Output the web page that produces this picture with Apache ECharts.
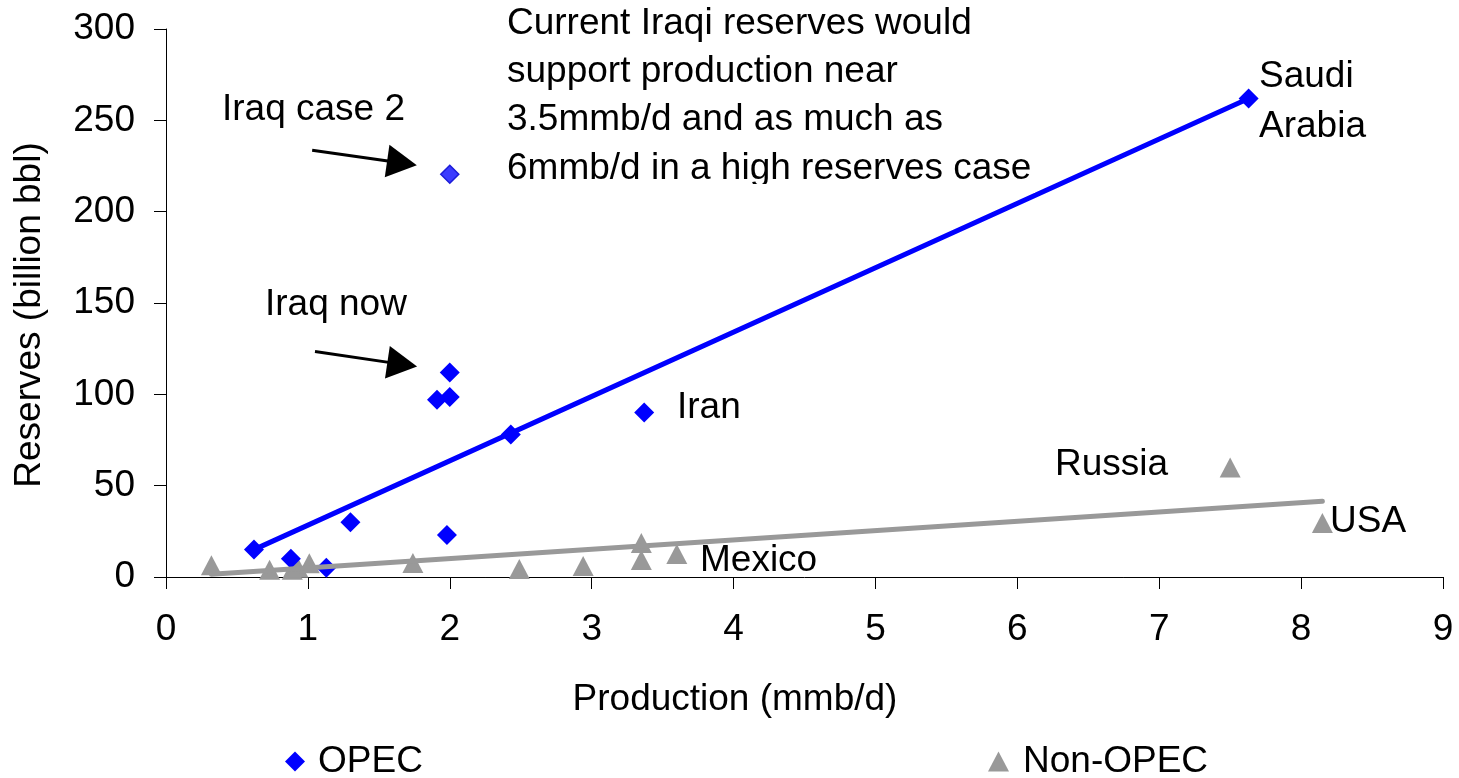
<!DOCTYPE html>
<html>
<head>
<meta charset="utf-8">
<script src="https://cdn.jsdelivr.net/npm/echarts@6/dist/echarts.min.js"></script>
<style>
html,body{margin:0;padding:0;background:#fff;}
#chart{width:1459px;height:778px;}
</style>
</head>
<body>
<div id="chart"></div>
<script>
// ---- data ----
const opecData = [[0.62,15],[0.88,10],[1.13,5],[1.30,30],[1.98,23],[2.43,78],[1.91,97],[2.00,98.5],[2.00,112],[3.37,90],[7.63,262]];
const iraqCase2Data = [[2.00,220.5]];
const nonOpecData = [[0.32,6.5],[0.73,4],[0.89,4],[0.93,5],[1.01,7.5],[1.74,7.7],[2.49,4.4],[2.94,6],[3.35,18.6],[3.35,9.3],[3.60,12.6],[7.50,60],[8.15,29.6]];
const opecTrend = [[0.62,15],[7.63,262]];
const nonOpecTrend = [[0.32,1.5],[8.15,41.5]];
const xTicks = [0,1,2,3,4,5,6,7,8,9];
const yTicks = [0,50,100,150,200,250,300];
// arrows (data coords): start, head centre
const arrowCase2 = [[1.03,233.6],[1.663,226.6]];
const arrowNow = [[1.05,123.4],[1.665,116.4]];

const FONT = 'Liberation Sans, Arial, sans-serif';
const FS = 37;
const chart = echarts.init(document.getElementById('chart'));

function txt(text, x, y, extra) {
  return Object.assign({
    type: 'text', x: x, y: y, z: 50,
    style: { text: text, fill: '#000', font: FS + 'px ' + FONT, textAlign: 'left', textVerticalAlign: 'middle' }
  }, extra || {});
}

const option = {
  animation: false,
  backgroundColor: '#fff',
  grid: { left: 166, right: 16, top: 29, bottom: 201, containLabel: false },
  xAxis: {
    type: 'value', min: xTicks[0], max: xTicks[xTicks.length-1], interval: 1,
    axisLine: { show: true, onZero: false, lineStyle: { color: '#000', width: 1 } },
    axisTick: { show: true, inside: false, length: 12, lineStyle: { color: '#000' } },
    axisLabel: { color: '#000', fontSize: FS, fontFamily: FONT, margin: 34 },
    splitLine: { show: false }
  },
  yAxis: {
    type: 'value', min: yTicks[0], max: yTicks[yTicks.length-1], interval: 50,
    axisLine: { show: true, lineStyle: { color: '#000', width: 1 } },
    axisTick: { show: true, inside: false, length: 12, lineStyle: { color: '#000' } },
    axisLabel: { color: '#000', fontSize: FS, fontFamily: FONT, margin: 31 },
    splitLine: { show: false }
  },
  legend: [
    { data: [{ name: 'OPEC', icon: 'diamond' }], left: 285, top: 743, padding: 0, itemWidth: 20, itemHeight: 20,
      textStyle: { fontSize: FS, fontFamily: FONT, color: '#000', padding: [0,0,0,8] } },
    { data: [{ name: 'Non-OPEC', icon: 'triangle' }], left: 988, top: 743, padding: 0, itemWidth: 21, itemHeight: 20,
      textStyle: { fontSize: FS, fontFamily: FONT, color: '#000', padding: [0,0,0,9] } }
  ],
  series: [
    { name: 'Non-OPEC', type: 'scatter', data: nonOpecData, symbol: 'triangle', symbolSize: [21,20],
      itemStyle: { color: '#999999', opacity: 1 }, z: 2 },
    { name: 'OPEC', type: 'scatter', data: opecData, symbol: 'diamond', symbolSize: 20,
      itemStyle: { color: '#0000ff', opacity: 1 }, z: 3,
      markLine: {
        silent: true, symbol: ['none','triangle'], symbolSize: [33,30], animation: false,
        label: { show: false },
        lineStyle: { color: '#000', width: 3, type: 'solid' },
        emphasis: { disabled: true },
        data: [
          [{ coord: arrowCase2[0] }, { coord: arrowCase2[1] }],
          [{ coord: arrowNow[0] }, { coord: arrowNow[1] }]
        ]
      }
    },
    { name: 'Iraq case 2', type: 'scatter', data: iraqCase2Data, symbol: 'diamond', symbolSize: 18,
      itemStyle: { color: '#3b3bff', borderColor: '#1c1cd8', borderWidth: 1.5, opacity: 1 }, z: 3 },
    { name: 'OPEC trend', type: 'line', data: opecTrend, showSymbol: false, symbol: 'none',
      lineStyle: { color: '#0000ff', width: 5, cap: 'round' }, z: 4 },
    { name: 'Non-OPEC trend', type: 'line', data: nonOpecTrend, showSymbol: false, symbol: 'none',
      lineStyle: { color: '#999999', width: 5, cap: 'round' }, z: 4 }
  ],
  graphic: [
    txt('Reserves (billion bbl)', 30, 315, { rotation: Math.PI/2, style: { text: 'Reserves (billion bbl)', fill: '#000', font: FS + 'px ' + FONT, textAlign: 'center', textVerticalAlign: 'middle' } }),
    txt('Production (mmb/d)', 735, 700, { style: { text: 'Production (mmb/d)', fill: '#000', font: FS + 'px ' + FONT, textAlign: 'center', textVerticalAlign: 'middle' } }),
    txt('Iraq case 2', 222, 110),
    txt('Iraq now', 265, 305),
    txt('Iran', 677, 408),
    txt('Russia', 1055, 465),
    txt('USA', 1330, 522),
    txt('Mexico', 700, 561),
    txt('Saudi', 1259, 77),
    txt('Arabia', 1259, 127),
    txt('Current Iraqi reserves would', 507, 24),
    txt('support production near', 507, 72),
    txt('3.5mmb/d and as much as', 507, 120),
    txt('6mmb/d in a high reserves case', 507, 169),
    { type: 'rect', z: 60, shape: { x: 500, y: 184, width: 535, height: 9 }, style: { fill: '#fff' } }
  ]
};
chart.setOption(option);
</script>
</body>
</html>
